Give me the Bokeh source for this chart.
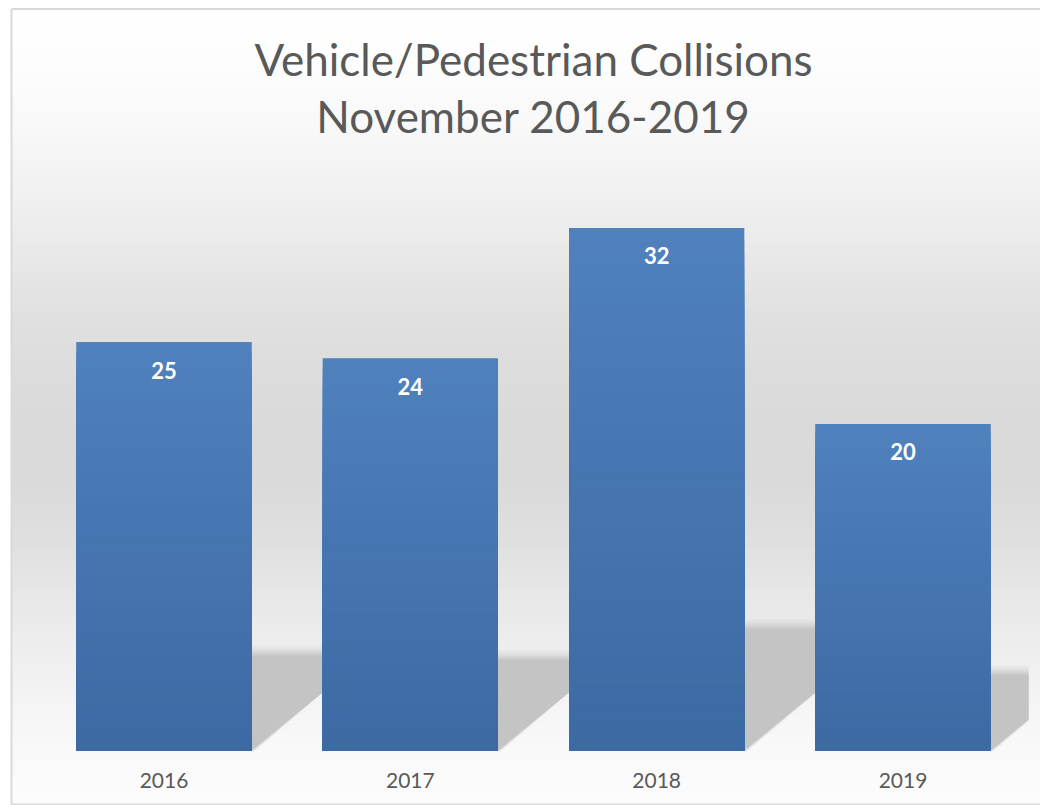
from bokeh.plotting import figure
from bokeh.models import Range1d
from bokeh.core.properties import value
from bokeh.embed import file_html
from bokeh.resources import INLINE

# ---- data ----
years = ["2016", "2017", "2018", "2019"]
collisions = [25, 24, 32, 20]
title_lines = ["Vehicle/Pedestrian Collisions", "November 2016-2019"]

# ---- layout helpers (canvas pixel -> data) ----
W, H = 1040, 805
PX_PER_CAT = 246.33
PX_PER_UNIT = 16.33
CX0 = 163.5      # canvas x of first category centre
BASE_Y = 750     # canvas y of the baseline (from top)
BAR_W = 0.7105


def cx(px):
    return (px - CX0) / PX_PER_CAT


def cy(py):
    return (BASE_Y - py) / PX_PER_UNIT


def mix(c1, c2, t):
    r = [round(a + (b - a) * t) for a, b in zip(c1, c2)]
    return "#%02x%02x%02x" % tuple(r)


p = figure(width=W, height=H, x_range=Range1d(cx(0), cx(W)), y_range=Range1d(cy(H), cy(0)),
           output_backend="svg", toolbar_location=None, min_border=0,
           x_axis_location=None, y_axis_location=None, outline_line_color=None)
p.grid.visible = False
p.background_fill_color = "white"
p.border_fill_color = "white"

# ---- background gradient (page y, grey level) ----
stops = [(8, 255), (60, 253), (120, 249), (200, 240), (250, 233), (300, 226), (360, 221),
         (420, 218), (480, 218), (540, 223), (600, 232), (650, 238), (700, 244), (750, 249),
         (804, 252)]


def grey_at(py):
    for (y1, g1), (y2, g2) in zip(stops[:-1], stops[1:]):
        if y1 <= py <= y2:
            return g1 + (g2 - g1) * (py - y1) / (y2 - y1)
    return stops[-1][1]


bl, br, bt, bb, bc = [], [], [], [], []
py = 9
while py < 804:
    g = round(grey_at(py + 2))
    bl.append(cx(11)); br.append(cx(W)); bt.append(cy(py)); bb.append(cy(804))
    bc.append("#%02x%02x%02x" % (g, g, g))
    py += 4
p.quad(left=bl, right=br, top=bt, bottom=bb, fill_color=bc, line_color=None)

# ---- shadows behind bars ----
x_clip = cx(1028)


def clip(poly, xmax):
    out = []
    n = len(poly)
    for k in range(n):
        a = poly[k]; b = poly[(k + 1) % n]
        ain = a[0] <= xmax; bin_ = b[0] <= xmax
        if ain:
            out.append(a)
        if ain != bin_:
            t = (xmax - a[0]) / (b[0] - a[0])
            out.append((xmax, a[1] + t * (b[1] - a[1])))
    return out


layers = [(9, 0.10), (7, 0.14), (5, 0.2), (3, 0.3), (1, 0.5), (-1, 1.0)]
for e_px, alpha in layers:
    xs_all, ys_all = [], []
    for i, v in enumerate(collisions):
        s = 0.235 * v + e_px / PX_PER_UNIT
        dx = 0.019 * v + e_px / PX_PER_CAT
        xl, xr = i - BAR_W / 2, i + BAR_W / 2
        poly = [(xl, 0), (xr + max(e_px, 0) / PX_PER_CAT * 0.5, 0), (xr + dx, s), (xl + dx, s)]
        poly = clip(poly, x_clip)
        xs_all.append([q[0] for q in poly]); ys_all.append([q[1] for q in poly])
    p.patches(xs=xs_all, ys=ys_all, fill_color="#c4c4c4", fill_alpha=alpha, line_color=None)

# ---- bars ----
idx = list(range(len(years)))
TOP_C = (79, 129, 189)
BOT_C = (60, 105, 162)
p.vbar(x=idx, top=collisions, width=BAR_W, fill_color=mix(BOT_C, TOP_C, 0.5), line_color=None)

gl, gr, gt, gb, gc = [], [], [], [], []
N = 40
for i, v in enumerate(collisions):
    for k in range(N):
        frac = 1 - k / N
        gl.append(i - BAR_W / 2); gr.append(i + BAR_W / 2)
        gt.append(v * frac); gb.append(0)
        gc.append(mix(BOT_C, TOP_C, frac))
p.quad(left=gl, right=gr, top=gt, bottom=gb, fill_color=gc, line_color=None)

# ---- data labels ----
p.text(x=idx, y=collisions, text=[str(v) for v in collisions], text_align="center",
       text_baseline="alphabetic", y_offset=28, text_color="white",
       text_font=value("Lato"), text_font_style="bold", text_font_size="22px")

# ---- category labels ----
p.text(x=idx, y=[0] * len(years), text=years, text_align="center",
       text_baseline="alphabetic", y_offset=30, text_color="#595959",
       text_font=value("Lato"), text_font_size="21px")

# ---- title ----
p.text(x=[cx(533)] * 2, y=[cy(58), cy(115)], text=title_lines, text_align="center",
       text_baseline="alphabetic", text_color="#595959",
       text_font=value("Lato"), text_font_size="44px")

# ---- chart border ----
p.segment(x0=[cx(11), cx(11), cx(11)], y0=[cy(8.5), cy(8.5), cy(804)],
          x1=[cx(11), cx(W), cx(W)], y1=[cy(804), cy(8.5), cy(804)],
          line_color="#d9d9d9", line_width=2)

open("out.html", "w").write(file_html(p, INLINE))
